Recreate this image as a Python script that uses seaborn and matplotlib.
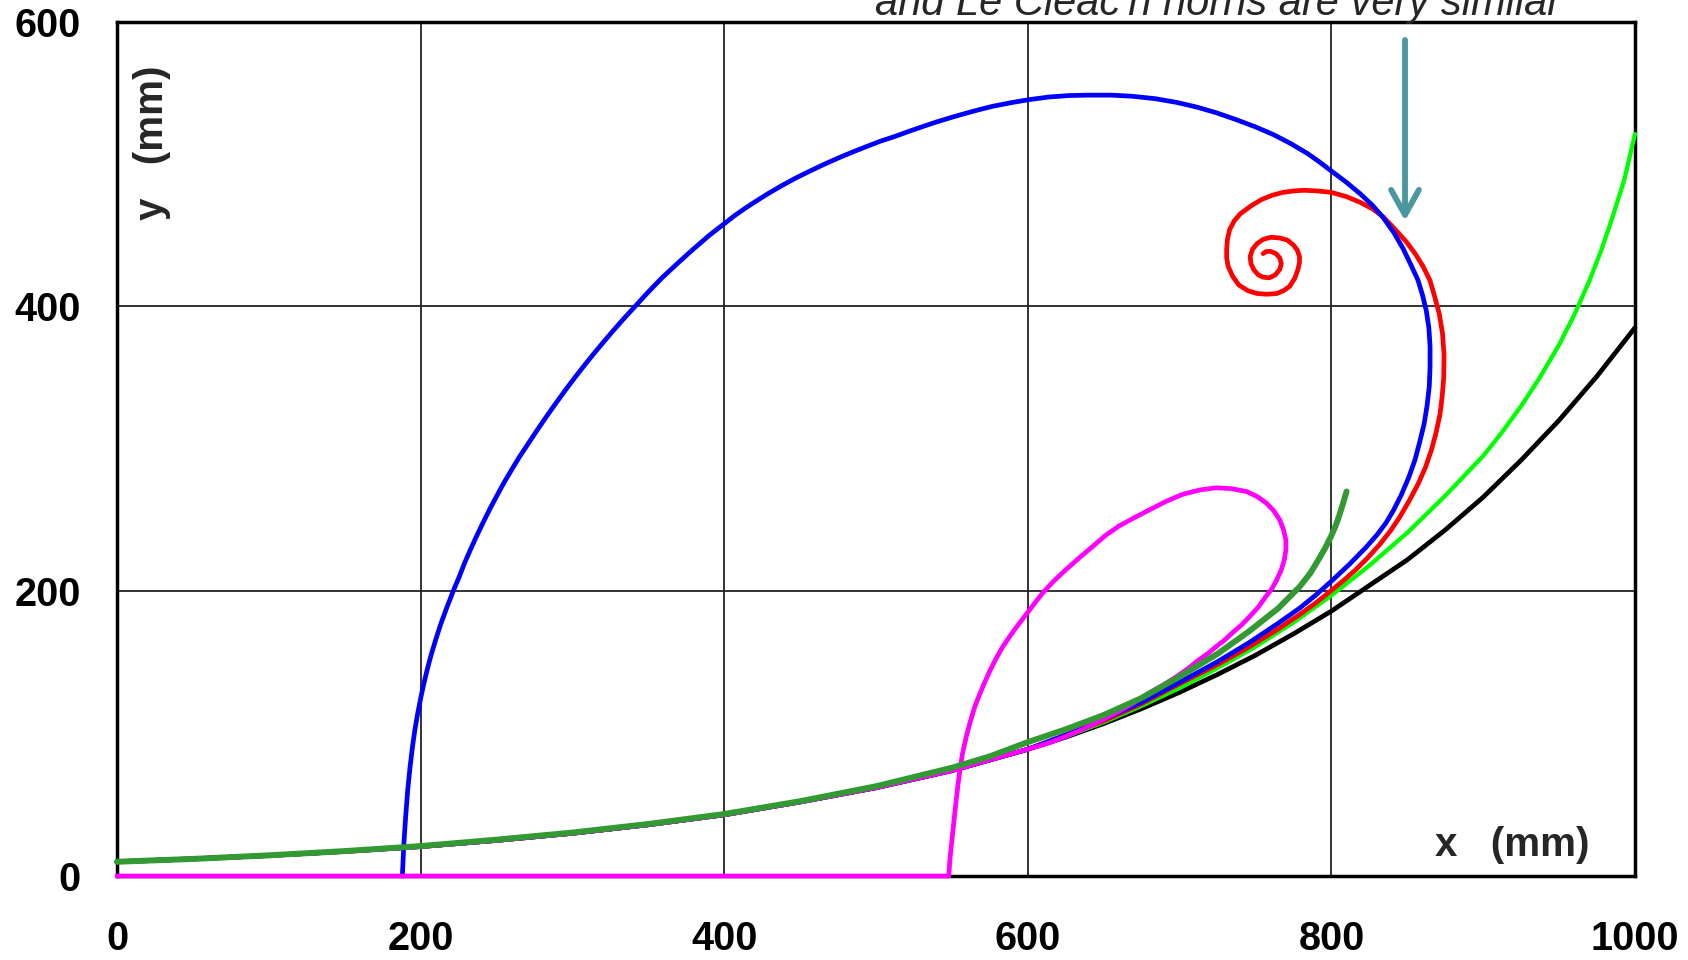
import matplotlib
matplotlib.use("Agg")
import matplotlib.pyplot as plt
import seaborn as sns

# common throat section, shared by all profiles
throat_x = [0, 50, 100, 150, 200, 250, 300, 350, 400, 450, 500, 550, 600]
throat_y = [10, 12, 14.4, 17.3, 20.7, 25, 30, 36, 43, 52, 62, 74, 89]

black_tail_x = [625, 650, 675, 700, 725, 750, 775, 800, 825, 850, 875, 900,
                925, 950, 975, 1000]
black_tail_y = [97.5, 107, 117.5, 129, 141.5, 155, 170, 186, 204, 222, 243,
                266, 292, 320, 351, 385]

lime_tail_x = [625, 650, 675, 700, 725, 750, 775, 800, 825, 850, 875, 900,
               912, 925, 937, 950, 960, 970, 978, 985, 993, 1000]
lime_tail_y = [98, 108, 119.5, 132, 146, 161, 178, 197, 218, 241, 267, 295,
               311, 330, 349.5, 373, 394, 418, 440, 462, 489, 521]

blue_tail_x = [625, 650, 675, 700, 725, 746, 765, 779, 790, 800,
               812, 823, 830, 836, 841, 846, 851, 855, 858, 861,
               863, 864.5, 865, 865, 864.2, 862.5, 860, 857, 852, 847,
               841, 834, 827, 819, 810, 800, 792, 784, 773, 762,
               750, 737, 724, 711, 698, 684, 669, 655, 640, 627,
               614, 600, 589, 577, 568, 559, 549.5, 540, 531, 522,
               512.5, 503, 494, 485, 475.5, 466, 456.5, 447, 438, 429,
               421.5, 414, 407, 400, 390, 380, 369.5, 359, 349.5, 340,
               333, 326, 320, 314, 308, 302, 295, 288, 282, 276,
               270.5, 265, 260, 255, 250.5, 246, 241, 236, 232.5, 229,
               225.5, 222, 217, 213, 210, 207, 204.5, 202, 200, 198,
               196.3, 194.7, 193, 191.5, 190.2, 189, 188]
blue_tail_y = [99, 110, 122, 136, 150.5, 164, 177.5, 188, 197.5, 207,
               219, 231, 239.5, 248, 257, 267.5, 280, 292, 304, 317,
               330, 344, 358, 372, 385, 397, 408, 418.5, 430, 441,
               452, 462.5, 471, 479, 487, 495, 501.5, 507.5, 514.4, 520.5,
               526, 531.2, 536, 540, 543.2, 545.8, 547.5, 548.3, 548.3, 548,
               547, 545, 543, 540.5, 538.1, 535.5, 532.6, 529.5, 526.3, 523,
               519.3, 516, 512.3, 508.5, 504.3, 499.8, 495, 490, 484.8, 479.2,
               474.2, 469, 463.8, 458, 449.7, 440.5, 430.4, 420, 409.5, 398.5,
               390.3, 381.8, 374.3, 366.6, 358.7, 350.5, 340.6, 330.3, 321.2, 311.8,
               303, 294.1, 285.3, 276.3, 267.5, 258.5, 247.8, 236.6, 228.3, 219.8,
               210.2, 201.4, 187.7, 176, 166, 155.5, 145.5, 134.5, 124.5, 113.5,
               103, 91, 76, 60, 42, 23, 0]

red_tail_x = [625, 650, 675, 700, 725, 746, 765, 779, 790, 800,
              808, 816.5, 824, 832, 839, 845, 851, 857, 862, 866,
              869, 871.6, 873, 874, 874.2, 873.2, 871, 868, 865, 860.6,
              855.5, 849.6, 842, 834, 827, 819, 810, 800, 791, 782,
              775, 768, 761, 754, 747, 740, 736, 733, 731.5, 731,
              731, 732, 735, 739, 745, 751, 757.5, 764, 768.5, 772.5,
              776, 778, 779, 779, 777.5, 775, 771, 766, 760, 755,
              751, 748, 746.5, 747, 749, 752, 755, 759, 763, 766,
              767, 766, 763.5, 760, 757, 755]
red_tail_y = [99, 109, 121, 135, 148.5, 161, 173.5, 183.5, 192, 200.5,
              207.5, 215.5, 223.5, 233, 242.5, 252, 263, 275, 287, 299.5,
              311.5, 324.5, 337, 350, 366, 381, 395, 407, 418, 427.6,
              436.5, 445, 454, 463, 468.5, 473, 477, 480, 481, 481.5,
              481, 480, 478, 475, 470.5, 465, 460, 454, 447, 440,
              434, 428, 421, 415, 411, 409, 408.5, 409, 411, 414,
              420, 426, 431, 435, 439.5, 443, 446.5, 448, 448.5, 447,
              444, 440, 435, 430, 425.5, 422, 420.5, 420, 422, 426,
              430, 434, 437, 438.6, 438.5, 437]

magenta_tail_x = [614, 625, 636, 647, 658, 669, 680, 689, 698, 706,
                  713, 719, 724, 730, 735, 741, 746, 752, 757, 761,
                  764, 767, 769, 770, 770, 768.5, 766, 762, 757, 751,
                  744, 734, 724, 713, 702, 691, 680, 670, 660, 651,
                  643, 634, 625, 617, 610, 605, 600, 596, 592, 588,
                  583.5, 579, 575, 571, 568, 565, 562, 559.5, 557, 555.5,
                  554, 552.5, 551, 549.5, 548.5, 548, 0]
magenta_tail_y = [93.4, 98, 103, 108.5, 114.5, 121, 128.6, 134, 140, 146,
                  152, 156.5, 161, 166, 171, 176.5, 182, 189, 196.5, 202,
                  208, 215, 222, 229, 236, 243, 250, 256.5, 262, 266.5,
                  270, 272, 272.6, 271, 268, 263, 257, 251.5, 245.7, 239,
                  231.6, 223.5, 215, 207, 199, 192.2, 185.2, 179.6, 174, 168,
                  161, 152.5, 144, 134.5, 126.8, 118.6, 108, 98, 86, 76,
                  64, 50, 35, 20, 9, 0, 0]

green_x = [0, 50, 100, 150, 200, 250, 300, 350, 400, 450, 500, 550, 575, 600,
           625, 650, 675, 700, 725, 746, 765, 779, 786, 792, 796, 800, 803,
           805, 807.5, 810]
green_y = [10, 12, 14.5, 17.5, 21, 25.5, 30.5, 36.5, 43.5, 52.5, 63, 76, 84, 94,
           103, 113, 125, 140, 156, 172, 188, 203, 212.5, 223, 230.5, 239, 246.5,
           252.5, 261, 270]

x_ticks = [0, 200, 400, 600, 800, 1000]
y_ticks = [0, 200, 400, 600]

sns.set_style("white")
plt.rcParams["font.family"] = ["Liberation Sans", "DejaVu Sans"]

fig = plt.figure(figsize=(16.88, 9.6), dpi=100)
ax = fig.add_axes([0.0693, 0.0875, 0.8993, 0.8901])

curves = [
    (throat_x + black_tail_x, throat_y + black_tail_y, "#000000", 3.4),
    (throat_x + lime_tail_x, throat_y + lime_tail_y, "#00FF00", 3.1),
    (throat_x + red_tail_x, throat_y + red_tail_y, "#FF0000", 3.4),
    (throat_x + blue_tail_x, throat_y + blue_tail_y, "#0000FF", 3.4),
    (throat_x + magenta_tail_x, throat_y + magenta_tail_y, "#FF00FF", 3.4),
    (green_x, green_y, "#339933", 4.3),
]
for xs, ys, col, lw in curves:
    sns.lineplot(x=xs, y=ys, sort=False, estimator=None, color=col,
                 ax=ax, legend=False)
    line = ax.lines[-1]
    line.set_linewidth(lw)
    line.set_zorder(3)
    line.set_clip_on(False)
    line.set_solid_joinstyle("round")

ax.set_xlim(0, 1000)
ax.set_ylim(0, 600)
ax.set_xticks(x_ticks)
ax.set_yticks(y_ticks)
ax.grid(True, color="#222222", linewidth=1.3)
ax.set_axisbelow(True)
for sp in ax.spines.values():
    sp.set_visible(True)
    sp.set_color("black")
    sp.set_linewidth(2.5)
ax.tick_params(axis="both", direction="out", length=10, width=1.5,
               labelsize=28.5, colors="black")
ax.tick_params(axis="x", pad=22)
ax.tick_params(axis="y", pad=16)
for lab in ax.get_xticklabels() + ax.get_yticklabels():
    lab.set_fontweight("bold")
ax.set_xlabel("")
ax.set_ylabel("")

ax.text(0.919, 0.036, "x   (mm)", transform=ax.transAxes, ha="center",
        va="center", fontsize=29, fontweight="bold")
ax.text(0.023, 0.858, "y   (mm)", transform=ax.transAxes, ha="center",
        va="center", fontsize=29, fontweight="bold", rotation=90)

ax.annotate("", xy=(848.5, 460), xytext=(848.5, 587),
            arrowprops=dict(arrowstyle="->,head_length=0.9,head_width=0.5",
                            color="#4A979F", lw=4.2, mutation_scale=20,
                            shrinkA=0, shrinkB=0), zorder=4)

fig.text(0.7216, 0.9844, "and Le Cl\u00e9ac'h horns are very similar",
         ha="center", va="baseline", fontsize=30, style="italic")

fig.savefig("out.png", dpi=100)
